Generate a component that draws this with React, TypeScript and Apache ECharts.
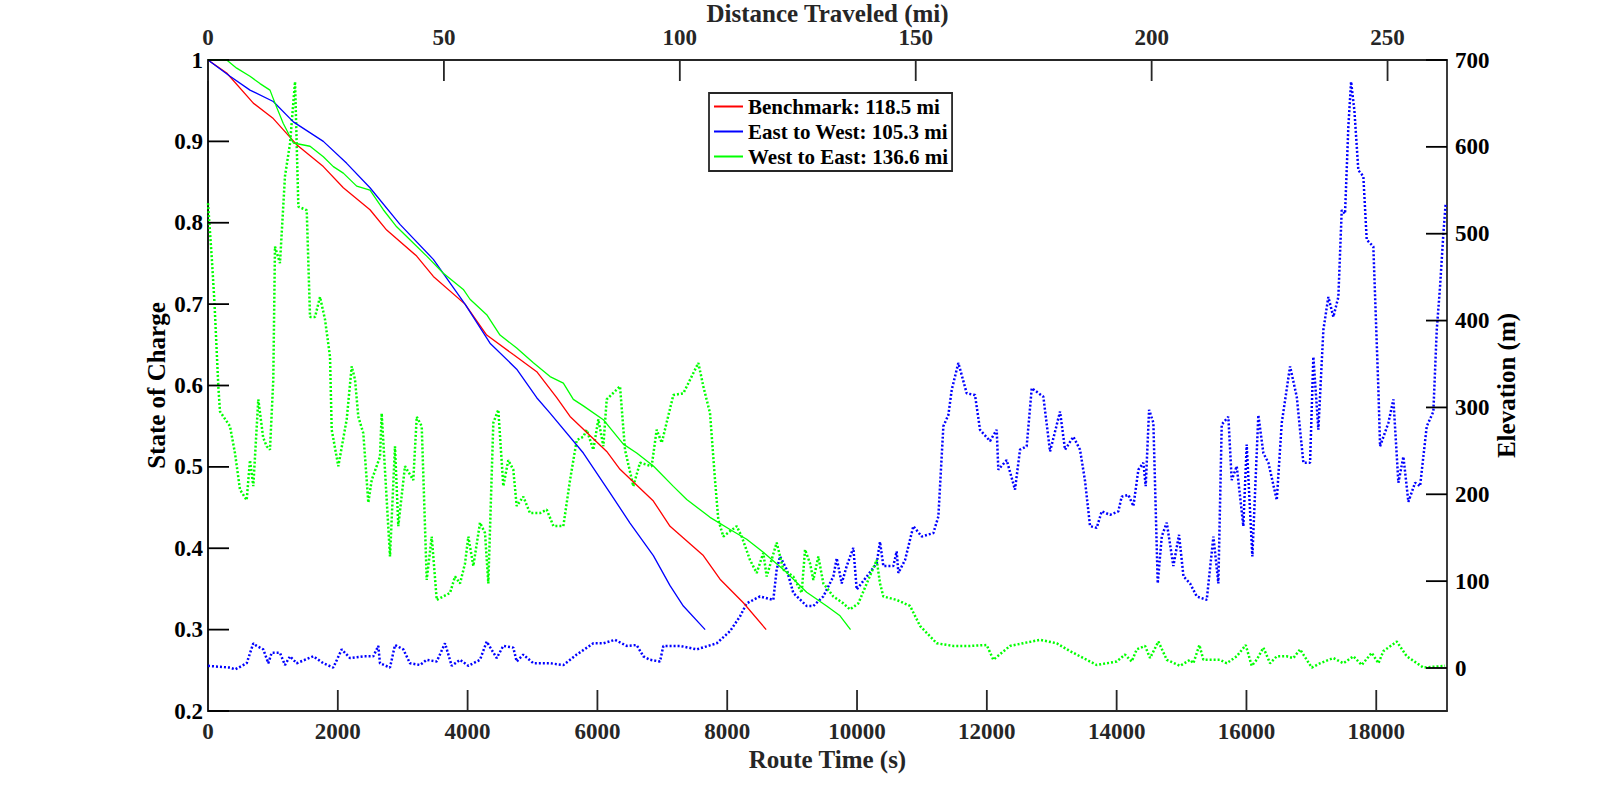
import React, { useEffect, useRef } from 'react';
import * as echarts from 'echarts';

// ---- Data (time in s) ----
const timeTicksMax = 19090; // route time axis extent (s)
const distanceMax = 262.6; // distance axis extent (mi)

const routeTimeTicks = [0, 2000, 4000, 6000, 8000, 10000, 12000, 14000, 16000, 18000];
const distanceTicks = [0, 50, 100, 150, 200, 250];
const socTicks = [0.2, 0.3, 0.4, 0.5, 0.6, 0.7, 0.8, 0.9, 1];
const elevationTicks = [0, 100, 200, 300, 400, 500, 600, 700];

const legendNames = ['Benchmark: 118.5 mi', 'East to West: 105.3 mi', 'West to East: 136.6 mi'];

const benchmarkSoc: [number, number][] = [
  [0, 1.0], [288, 0.984], [698, 0.947], [1006, 0.928], [1366, 0.896], [1777, 0.869], [2085, 0.843],
  [2496, 0.816], [2753, 0.791], [3215, 0.759], [3472, 0.734], [3960, 0.7], [4294, 0.662], [4704, 0.638],
  [5065, 0.617], [5373, 0.585], [5578, 0.562], [6143, 0.519], [6348, 0.497], [6862, 0.458], [7119, 0.427],
  [7632, 0.391], [7889, 0.362], [8248, 0.333], [8600, 0.3],
];

const eastToWestSoc: [number, number][] = [
  [0, 1.0], [339, 0.98], [647, 0.963], [1006, 0.949], [1315, 0.924], [1777, 0.9], [2137, 0.873],
  [2496, 0.843], [2958, 0.798], [3472, 0.755], [3960, 0.7], [4345, 0.652], [4756, 0.62], [5065, 0.585],
  [5270, 0.566], [5783, 0.517], [6194, 0.468], [6502, 0.431], [6862, 0.391], [7119, 0.354], [7324, 0.329],
  [7660, 0.3],
];

const westToEastSoc: [number, number][] = [
  [0, 1.0], [288, 1.0], [442, 0.99], [647, 0.98], [801, 0.971], [955, 0.963], [1032, 0.947], [1160, 0.922],
  [1315, 0.898], [1572, 0.894], [1777, 0.881], [1931, 0.869], [2085, 0.861], [2291, 0.845], [2496, 0.84],
  [2701, 0.816], [2907, 0.795], [3112, 0.779], [3370, 0.759], [3626, 0.738], [3934, 0.718], [4037, 0.706],
  [4294, 0.687], [4499, 0.662], [4756, 0.646], [5013, 0.628], [5270, 0.611], [5475, 0.603], [5629, 0.583],
  [5783, 0.575], [6091, 0.558], [6399, 0.528], [6605, 0.517], [6862, 0.501], [7170, 0.476], [7376, 0.46],
  [7735, 0.438], [8043, 0.423], [8300, 0.411], [8556, 0.395], [8864, 0.374], [9224, 0.346], [9532, 0.329],
  [9738, 0.317], [9900, 0.3],
];

const eastToWestElevation: [number, number][] = [
  [0, 2], [339, 0], [420, -2], [596, 5], [698, 28], [750, 25], [852, 21], [929, 5], [981, 17], [1109, 17],
  [1186, 3], [1264, 13], [1366, 5], [1623, 13], [1777, 5], [1931, 0], [2060, 21], [2188, 11], [2393, 13],
  [2547, 13], [2624, 25], [2650, 5], [2804, 0], [2881, 26], [3009, 21], [3112, 5], [3267, 3], [3370, 9],
  [3524, 7], [3652, 28], [3755, 2], [3883, 9], [4011, 2], [4191, 9], [4294, 30], [4448, 11], [4550, 25],
  [4704, 23], [4756, 7], [4858, 15], [5013, 5], [5270, 5], [5475, 3], [5681, 15], [5937, 28], [6091, 28],
  [6271, 32], [6451, 25], [6605, 26], [6707, 13], [6810, 9], [6964, 7], [7016, 25], [7273, 25], [7530, 21],
  [7838, 28], [8043, 42], [8197, 59], [8300, 74], [8505, 82], [8710, 78], [8762, 113], [8814, 128],
  [8917, 113], [9018, 86], [9224, 71], [9327, 71], [9481, 82], [9635, 105], [9687, 126], [9764, 97],
  [9841, 117], [9943, 138], [9995, 90], [10150, 105], [10303, 120], [10354, 145], [10405, 117], [10559, 117],
  [10611, 134], [10637, 109], [10740, 124], [10868, 163], [10997, 151], [11176, 155], [11253, 174],
  [11330, 278], [11407, 291], [11459, 320], [11561, 351], [11690, 316], [11818, 314], [11895, 274],
  [12049, 261], [12152, 274], [12177, 228], [12306, 239], [12434, 205], [12511, 251], [12614, 255],
  [12692, 322], [12871, 312], [12974, 249], [13128, 295], [13205, 251], [13333, 266], [13436, 251],
  [13513, 215], [13590, 163], [13693, 161], [13770, 180], [13898, 176], [14026, 180], [14078, 197],
  [14181, 199], [14258, 186], [14335, 228], [14412, 236], [14448, 209], [14500, 297], [14566, 282],
  [14633, 97], [14695, 151], [14772, 167], [14874, 117], [14961, 153], [15030, 105], [15131, 97],
  [15234, 82], [15388, 78], [15491, 151], [15567, 97], [15619, 280], [15721, 289], [15773, 216],
  [15850, 232], [15952, 163], [16004, 257], [16091, 128], [16183, 291], [16261, 247], [16338, 236],
  [16467, 193], [16544, 282], [16672, 347], [16775, 312], [16877, 236], [16980, 236], [17031, 358],
  [17108, 274], [17185, 389], [17262, 427], [17339, 404], [17416, 427], [17468, 527], [17519, 523],
  [17570, 623], [17612, 675], [17663, 642], [17724, 573], [17801, 566], [17853, 493], [17955, 485],
  [18033, 320], [18059, 255], [18187, 282], [18264, 309], [18341, 213], [18418, 243], [18495, 191],
  [18598, 213], [18675, 209], [18778, 278], [18880, 295], [18932, 389], [18983, 439], [19034, 500],
  [19070, 535],
];

const westToEastElevation: [number, number][] = [
  [0, 535], [60, 470], [100, 420], [159, 324], [185, 295], [339, 278], [416, 247], [493, 205], [596, 193],
  [647, 239], [698, 209], [775, 309], [850, 265], [904, 255], [955, 251], [1006, 332], [1032, 485],
  [1109, 466], [1186, 566], [1264, 604], [1341, 675], [1392, 531], [1521, 527], [1572, 404], [1649, 404],
  [1726, 427], [1803, 401], [1880, 358], [1906, 274], [2008, 232], [2137, 286], [2214, 347], [2265, 332],
  [2316, 289], [2393, 270], [2470, 190], [2522, 216], [2650, 243], [2676, 293], [2804, 128], [2881, 255],
  [2932, 163], [3035, 232], [3163, 216], [3216, 289], [3293, 278], [3370, 101], [3447, 151], [3524, 78],
  [3626, 82], [3729, 86], [3806, 105], [3883, 97], [3960, 120], [4011, 151], [4088, 117], [4191, 167],
  [4268, 155], [4319, 97], [4396, 282], [4473, 297], [4550, 209], [4627, 239], [4704, 228], [4756, 186],
  [4858, 197], [4961, 178], [5116, 178], [5219, 182], [5322, 163], [5475, 163], [5578, 216], [5681, 262],
  [5783, 266], [5835, 274], [5937, 251], [6014, 286], [6091, 255], [6143, 309], [6348, 324], [6425, 251],
  [6553, 209], [6656, 236], [6836, 232], [6913, 274], [6991, 259], [7170, 314], [7324, 316], [7555, 351],
  [7632, 324], [7735, 293], [7812, 216], [7863, 170], [7940, 151], [8146, 163], [8223, 151], [8351, 124],
  [8454, 109], [8556, 132], [8608, 105], [8762, 144], [8864, 113], [9018, 105], [9147, 86], [9199, 136],
  [9276, 120], [9327, 101], [9404, 128], [9481, 97], [9635, 82], [9789, 74], [9892, 67], [10020, 74],
  [10150, 97], [10303, 124], [10354, 97], [10405, 82], [10611, 78], [10817, 71], [10971, 48], [11228, 28],
  [11484, 25], [11741, 25], [11998, 26], [12100, 9], [12357, 25], [12820, 32], [13077, 28], [13282, 19],
  [13693, 3], [14001, 7], [14129, 15], [14232, 7], [14309, 21], [14438, 25], [14515, 11], [14643, 30],
  [14772, 9], [14977, 2], [15131, 9], [15182, 5], [15275, 26], [15336, 9], [15593, 9], [15696, 5],
  [15850, 13], [15989, 26], [16081, 2], [16158, 9], [16261, 23], [16364, 5], [16467, 13], [16621, 13],
  [16723, 11], [16826, 21], [17006, 0], [17134, 5], [17339, 11], [17494, 5], [17648, 13], [17776, 3],
  [17931, 17], [18033, 5], [18110, 19], [18316, 30], [18470, 13], [18726, 0], [19060, 2],
];

// ---- Styling ----
const FONT = "'Liberation Serif', 'Times New Roman', serif";
const AX = '#262626';
const BLACK = '#000000';
const LW = 1.8;
const TICK_LEN = 21;

const tickFont = { fontSize: 23, fontWeight: 'bold' as const, fontFamily: FONT };
const nameFont = { fontSize: 25, fontWeight: 'bold' as const, fontFamily: FONT };

function buildOption(): any {
  const gridBase = { left: 208, right: 153, top: 60, containLabel: false, outerBoundsMode: 'none' };
  return {
    animation: false,
    backgroundColor: '#ffffff',
    grid: [
      { ...gridBase, bottom: 89 },
      { ...gridBase, bottom: 132 },
    ],
    legend: {
      orient: 'vertical',
      left: 709,
      top: 93,
      data: legendNames,
      icon: 'rect',
      itemWidth: 29,
      itemHeight: 2,
      itemGap: 4,
      padding: [3, 4, 4, 5],
      borderColor: AX,
      borderWidth: LW,
      borderRadius: 0,
      backgroundColor: '#ffffff',
      textStyle: { color: BLACK, fontSize: 21, fontWeight: 'bold', fontFamily: FONT, lineHeight: 21 },
      selectedMode: false,
    },
    xAxis: [
      {
        type: 'value', gridIndex: 0, position: 'bottom', min: 0, max: timeTicksMax, interval: 2000,
        axisLine: { show: true, onZero: false, lineStyle: { color: AX, width: LW } },
        axisTick: { show: false },
        axisLabel: {
          margin: 9, color: AX, ...tickFont, showMaxLabel: false,
          formatter: (v: number) => (routeTimeTicks.indexOf(v) >= 0 ? String(v) : ''),
        },
        splitLine: { show: false },
        name: 'Route Time (s)', nameLocation: 'middle', nameGap: 36, nameMoveOverlap: false,
        nameTextStyle: { color: AX, ...nameFont },
      },
      {
        type: 'value', gridIndex: 0, position: 'top', min: 0, max: distanceMax, interval: 50,
        axisLine: { show: true, onZero: false, lineStyle: { color: AX, width: LW } },
        axisTick: { show: false },
        axisLabel: {
          margin: 11, color: AX, ...tickFont, showMaxLabel: false,
          formatter: (v: number) => (distanceTicks.indexOf(v) >= 0 ? String(v) : ''),
        },
        splitLine: { show: false },
        name: 'Distance Traveled (mi)', nameLocation: 'middle', nameGap: 34, nameMoveOverlap: false,
        nameTextStyle: { color: AX, ...nameFont },
      },
      {
        type: 'value', gridIndex: 1, min: 0, max: 1, show: false,
      },
    ],
    yAxis: [
      {
        type: 'value', gridIndex: 0, position: 'left', min: 0.2, max: 1, interval: 0.1,
        axisLine: { show: true, onZero: false, lineStyle: { color: BLACK, width: LW } },
        axisTick: { show: false },
        axisLabel: { margin: 5, color: BLACK, ...tickFont },
        splitLine: { show: false },
        name: 'State of Charge', nameLocation: 'middle', nameGap: 39, nameRotate: 90, nameMoveOverlap: false,
        nameTextStyle: { color: BLACK, ...nameFont },
      },
      {
        type: 'value', gridIndex: 0, position: 'right', min: -50, max: 700,
        axisLine: { show: true, onZero: false, lineStyle: { color: AX, width: LW } },
        axisTick: { show: false },
        axisLabel: { show: false },
        splitLine: { show: false },
        name: 'Elevation (m)', nameLocation: 'middle', nameGap: 47, nameRotate: 90, nameMoveOverlap: false,
        nameTextStyle: { color: BLACK, ...nameFont },
      },
      {
        type: 'value', gridIndex: 1, position: 'right', min: 0, max: 700, interval: 100,
        axisLine: { show: false, onZero: false },
        axisTick: { show: false },
        axisLabel: { margin: 8, color: BLACK, ...tickFont },
        splitLine: { show: false },
      },
    ],
    series: [
      {
        name: 'East to West elevation', type: 'line', xAxisIndex: 0, yAxisIndex: 1,
        data: eastToWestElevation, showSymbol: false, symbol: 'none', silent: true,
        color: '#0000ff', lineStyle: { color: '#0000ff', width: 2.5, type: [2, 2] },
      },
      {
        name: 'West to East elevation', type: 'line', xAxisIndex: 0, yAxisIndex: 1,
        data: westToEastElevation, showSymbol: false, symbol: 'none', silent: true,
        color: '#00ff00', lineStyle: { color: '#00ff00', width: 2.5, type: [2, 2] },
      },
      {
        name: legendNames[0], type: 'line', xAxisIndex: 0, yAxisIndex: 0,
        data: benchmarkSoc, showSymbol: false, symbol: 'none',
        color: '#ff0000', lineStyle: { color: '#ff0000', width: 1.3 },
      },
      {
        name: legendNames[1], type: 'line', xAxisIndex: 0, yAxisIndex: 0,
        data: eastToWestSoc, showSymbol: false, symbol: 'none',
        color: '#0000ff', lineStyle: { color: '#0000ff', width: 1.3 },
      },
      {
        name: legendNames[2], type: 'line', xAxisIndex: 0, yAxisIndex: 0,
        data: westToEastSoc, showSymbol: false, symbol: 'none',
        color: '#00ff00', lineStyle: { color: '#00ff00', width: 1.3 },
      },
    ],
  };
}

// Inward MATLAB-style tick marks, positioned through the chart's own axis scales.
function buildTicks(chart: echarts.ECharts): any[] {
  const px = (finder: any, v: number) => chart.convertToPixel(finder, v) as number;
  const gLeft = px({ xAxisIndex: 0 }, 0);
  const gRight = px({ xAxisIndex: 0 }, timeTicksMax);
  const gTop = px({ yAxisIndex: 0 }, 1);
  const gBottom = px({ yAxisIndex: 0 }, 0.2);
  const seg = (x1: number, y1: number, x2: number, y2: number, color: string) => ({
    type: 'line',
    silent: true,
    z: 50,
    shape: { x1, y1, x2, y2 },
    style: { stroke: color, lineWidth: LW },
  });
  const els: any[] = [];
  routeTimeTicks.forEach((v) => {
    const x = px({ xAxisIndex: 0 }, v);
    els.push(seg(x, gBottom, x, gBottom - TICK_LEN, AX));
  });
  distanceTicks.forEach((v) => {
    const x = px({ xAxisIndex: 1 }, v);
    els.push(seg(x, gTop, x, gTop + TICK_LEN, AX));
  });
  socTicks.forEach((v) => {
    const y = px({ yAxisIndex: 0 }, v);
    els.push(seg(gLeft, y, gLeft + TICK_LEN, y, BLACK));
  });
  elevationTicks.forEach((v) => {
    const y = px({ yAxisIndex: 2 }, v);
    els.push(seg(gRight, y, gRight - TICK_LEN, y, BLACK));
  });
  return els;
}

export default function App() {
  const ref = useRef<HTMLDivElement>(null);
  useEffect(() => {
    document.body.style.margin = '0';
    if (!ref.current) return;
    const chart = echarts.init(ref.current, null, { renderer: 'svg' });
    chart.setOption(buildOption());
    chart.setOption({ graphic: buildTicks(chart) });
    return () => chart.dispose();
  }, []);
  return <div ref={ref} style={{ width: 1600, height: 800, background: '#fff' }} />;
}
